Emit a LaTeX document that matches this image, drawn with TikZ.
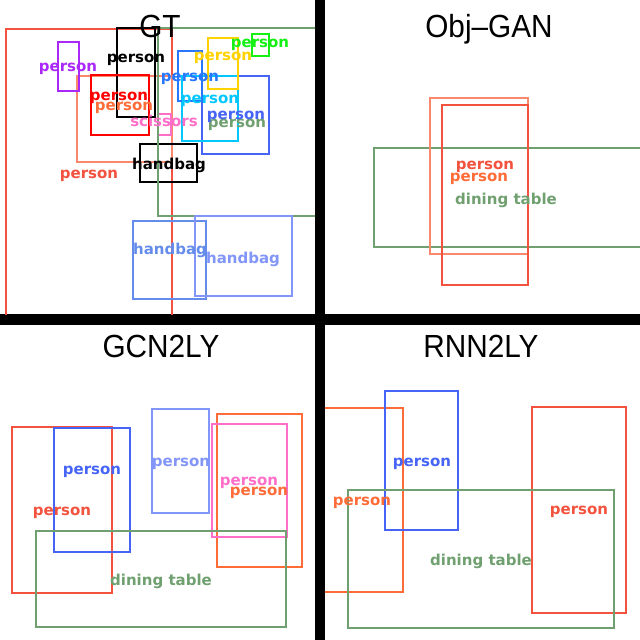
\documentclass[tikz,border=0pt]{standalone}
\usepackage{fontspec}
\setmainfont{DejaVu Sans}
\newfontfamily\titlefont[FakeStretch=0.93]{Liberation Sans}
\definecolor{tomatoc}{RGB}{242,82,62}
\definecolor{coralc}{RGB}{255,108,56}
\definecolor{salmonc}{RGB}{250,136,108}
\definecolor{greenc}{RGB}{112,160,112}
\definecolor{royalc}{RGB}{70,100,245}
\definecolor{lightbluec}{RGB}{130,150,250}
\definecolor{cornflowerc}{RGB}{100,140,235}
\definecolor{pinkc}{RGB}{255,110,200}
\definecolor{dodgerc}{RGB}{40,120,255}
\definecolor{cyanc}{RGB}{0,200,255}
\definecolor{goldc}{RGB}{255,210,0}
\definecolor{limec}{RGB}{20,240,20}
\definecolor{purplec}{RGB}{170,40,250}
\definecolor{redc}{RGB}{255,0,0}
\begin{document}
\begin{tikzpicture}[x=1pt,y=-1pt,
  box/.style={line width=1.1pt},
  lbl/.style={font=\fontsize{15}{15}\selectfont\bfseries, anchor=mid, inner sep=0pt, yshift=-2.5pt},
  ttl/.style={font=\titlefont\fontsize{32}{32}\selectfont, anchor=base, inner sep=0pt}]
\fill[black] (0,0) rectangle (640,640);
\fill[white] (0,0) rectangle (315,314);
\fill[white] (325,0) rectangle (640,314);
\fill[white] (0,325) rectangle (315,640);
\fill[white] (325,325) rectangle (640,640);

\begin{scope}
\clip (0,0) rectangle (315,314);
\draw[box, tomatoc] (6,29) rectangle (172,330);
\draw[box, salmonc] (77,76) rectangle (172,162);
\draw[box, purplec] (58,42) rectangle (79,91);
\draw[box, black] (117,28) rectangle (155,117);
\draw[box, redc] (91,75) rectangle (149,135);
\draw[box, pinkc] (158,114) rectangle (171,135);
\draw[box, black] (140,144) rectangle (197,182);
\draw[box, greenc] (158,28) rectangle (330,216);
\draw[box, royalc] (202,76) rectangle (269,154);
\draw[box, cyanc] (182,76) rectangle (238,141);
\draw[box, dodgerc] (178,51) rectangle (202,101);
\draw[box, goldc] (208,38) rectangle (238,89);
\draw[box, limec] (252,34) rectangle (269,56);
\draw[box, cornflowerc] (133,221) rectangle (206,299);
\draw[box, lightbluec] (195,216) rectangle (292,296);
\node[ttl] (gt) at (160,37) {GT};
\node[lbl, purplec] (gtp1) at (68,66) {person};
\node[lbl, black] (gtp2) at (136,57) {person};
\node[lbl, redc] (gtp3) at (119,95) {person};
\node[lbl, coralc] (gtp4) at (124,105) {person};
\node[lbl, tomatoc] (gtp5) at (89,173) {person};
\node[lbl, pinkc] (gtsc) at (164,121) {scissors};
\node[lbl, black] (gtbag1) at (169,164) {handbag};
\node[lbl, greenc] (gtp6) at (237,122) {person};
\node[lbl, royalc] (gtp7) at (236,114) {person};
\node[lbl, cyanc] (gtp8) at (210,98) {person};
\node[lbl, dodgerc] (gtp9) at (190,76) {person};
\node[lbl, goldc] (gtp10) at (223,55) {person};
\node[lbl, limec] (gtp11) at (260,42) {person};
\node[lbl, cornflowerc] (gtbag2) at (170,249) {handbag};
\node[lbl, lightbluec] (gtbag3) at (243,258) {handbag};
\end{scope}

\begin{scope}
\clip (325,0) rectangle (640,314);
\draw[box, greenc] (374,148) rectangle (650,247);
\draw[box, salmonc] (430,98) rectangle (528,254);
\draw[box, tomatoc] (442,105) rectangle (528,285);
\node[ttl] (og) at (489,37) {Obj–GAN};
\node[lbl, greenc] (ogtab) at (506,199) {dining table};
\node[lbl, coralc] (ogp1) at (479,176) {person};
\node[lbl, tomatoc] (ogp2) at (485,164) {person};
\end{scope}

\begin{scope}
\clip (0,325) rectangle (315,640);
\draw[box, tomatoc] (12,427) rectangle (112,593);
\draw[box, royalc] (54,428) rectangle (130,552);
\draw[box, lightbluec] (152,409) rectangle (209,513);
\draw[box, coralc] (217,414) rectangle (302,567);
\draw[box, pinkc] (212,424) rectangle (287,537);
\draw[box, greenc] (36,531) rectangle (286,627);
\node[ttl] (gcn) at (161,357) {GCN2LY};
\node[lbl, tomatoc] (gcnp1) at (62,510) {person};
\node[lbl, royalc] (gcnp2) at (92,469) {person};
\node[lbl, lightbluec] (gcnp3) at (181,461) {person};
\node[lbl, coralc] (gcnp4) at (259,490) {person};
\node[lbl, pinkc] (gcnp5) at (249,480) {person};
\node[lbl, greenc] (gcntab) at (161,580) {dining table};
\end{scope}

\begin{scope}
\clip (325,325) rectangle (640,640);
\draw[box, coralc] (310,408) rectangle (403,592);
\draw[box, royalc] (385,391) rectangle (458,530);
\draw[box, tomatoc] (532,407) rectangle (626,613);
\draw[box, greenc] (348,490) rectangle (614,628);
\node[ttl] (rnn) at (481,357) {RNN2LY};
\node[lbl, coralc] (rnnp1) at (362,500) {person};
\node[lbl, royalc] (rnnp2) at (422,461) {person};
\node[lbl, tomatoc] (rnnp3) at (579,509) {person};
\node[lbl, greenc] (rnntab) at (481,560) {dining table};
\end{scope}
\end{tikzpicture}
\end{document}
